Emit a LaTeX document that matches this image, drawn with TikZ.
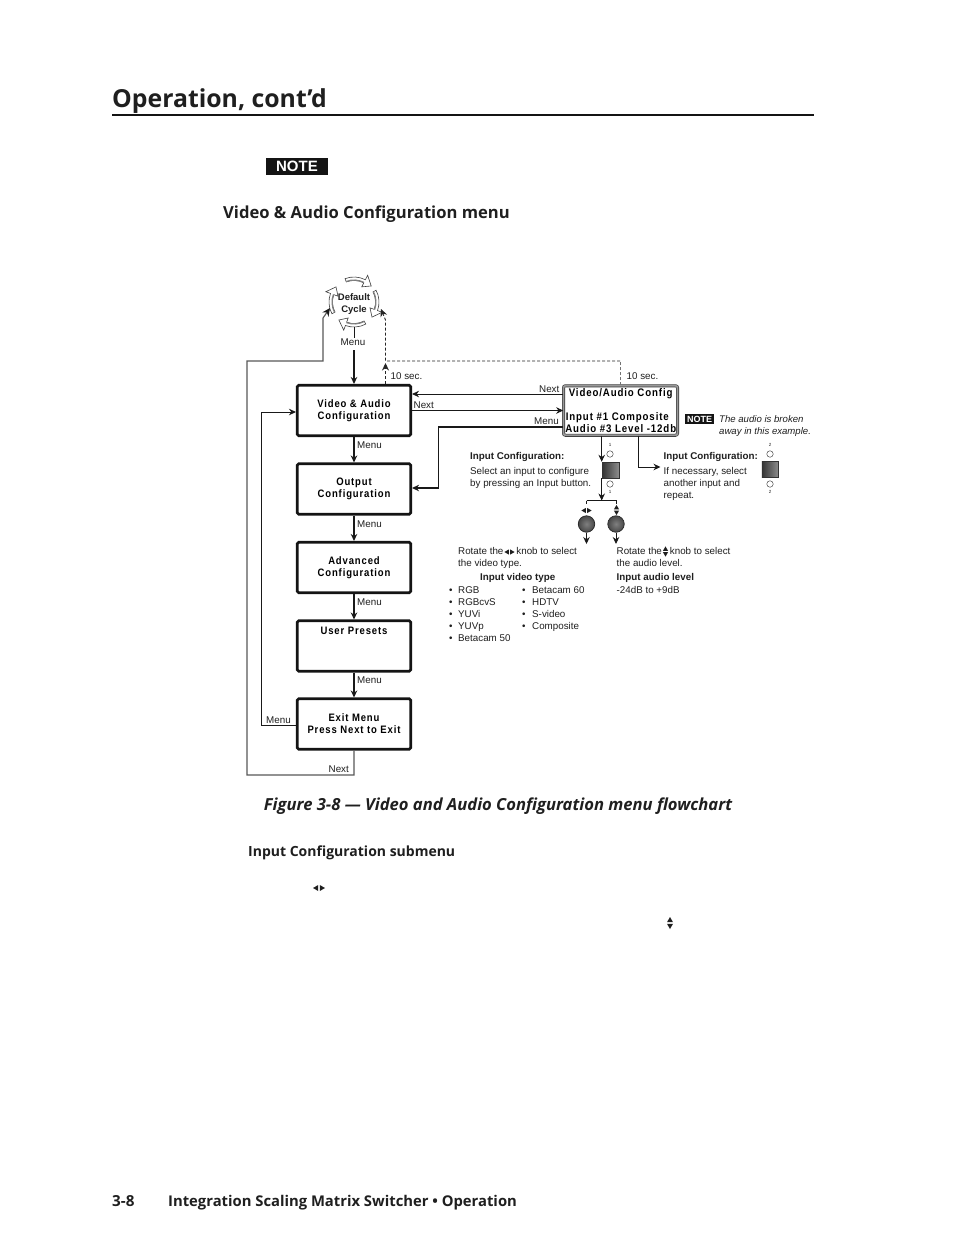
\documentclass[tikz,border=0pt]{standalone}
\usepackage{fontspec}
\usetikzlibrary{arrows.meta,calc,shadings}
\setmainfont{Liberation Sans}
\newfontfamily\headfont{Open Sans}
\newfontfamily\boxfontfam[LetterSpace=8,FakeStretch=0.88]{Liberation Sans}
\definecolor{ink}{gray}{0.12}
\tikzset{
 x=1pt,y=-1pt,
 lbl/.style={font=\fontsize{9.8}{12}\selectfont,anchor=base west,inner sep=0pt,text=ink},
 lblb/.style={lbl,font=\fontsize{9.8}{12}\selectfont\bfseries},
 head/.style={font=\fontsize{#1}{#1}\headfont\bfseries,anchor=base west,inner sep=0pt,text=ink},
 menubox/.style={draw=black!92,line width=2.6pt,rounded corners=1.5pt,fill=white,minimum width=113.5pt,minimum height=50.5pt,inner sep=0pt,align=center,font=\fontsize{10.8}{12}\boxfontfam\bfseries},
 boxtext/.style={inner sep=0pt,font=\fontsize{10.8}{12}\boxfontfam\bfseries},
 dispbox/.style={draw=black!80,double=black!40,double distance=1.8pt,line width=.6pt,rounded corners=2pt,fill=white,minimum width=114pt,minimum height=49.5pt,inner sep=0pt,align=left,font=\fontsize{11}{11.8}\boxfontfam\bfseries},
 tip/.style={-{Stealth[length=7pt,width=6.5pt]}},
 thin line/.style={line width=.9pt,draw=black!90},
 thick line/.style={line width=1.7pt,draw=black!90},
 gray line/.style={line width=1.1pt,draw=black!65},
 dash line/.style={line width=.9pt,draw=black!85,dash pattern=on 3pt off 2pt},
 pushbtn/.style={draw=black!80,line width=.5pt,left color=black!80,right color=black!45,minimum width=16.5pt,minimum height=16pt,inner sep=0pt},
 led/.style={circle,draw=black!75,line width=.45pt,fill=white,minimum size=6.5pt,inner sep=0pt},
 knob/.style={circle,draw=black!85,line width=.7pt,inner color=black!50,outer color=black!72,minimum size=16.5pt,inner sep=0pt},
 tiny/.style={font=\fontsize{4.5}{5}\selectfont,inner sep=0pt,text=ink},
 notebadge/.style={fill=black!92,text=white,inner sep=0pt,font=\bfseries},
 lrtri/.pic={\fill[ink] (-6,0)--(-.8,-3)--(-.8,3)--cycle (6,0)--(.8,-3)--(.8,3)--cycle;},
 udtri/.pic={\fill[ink] (0,-6)--(-3,-.8)--(3,-.8)--cycle (0,6)--(-3,.8)--(3,.8)--cycle;},
 cyc arrow/.pic={
  \path[draw=black!75,line width=.6pt,fill=white]
    (-68:21.5) arc[start angle=-68,end angle=-20,radius=21.5]
    -- (-20:17) -- (0:23.5) -- (-20:30) -- (-20:25)
    arc[start angle=-20,end angle=-68,radius=25] -- cycle;
  \draw[black!50,line width=1.1pt] (-68:22) arc[start angle=-68,end angle=-20,radius=22];
 },
}
\begin{document}
\begin{tikzpicture}
\path[use as bounding box,fill=white] (0,0) rectangle (954,1235);

% page furniture
\node[head=24.8] (title) at (112,107) {Operation, cont’d};
\draw[line width=1.8pt,black!92] (112,115) -- (814,115);
\node[notebadge,minimum width=62pt,minimum height=17pt,font=\fontsize{15}{15}\selectfont\bfseries] (notetop) at (297,166.5) {NOTE};
\node[head=16.6] (sec1) at (223,218) {Video \& Audio Configuration menu};
\node[inner sep=0pt,text=ink,anchor=base,font=\fontsize{16.6}{16.6}\headfont\bfseries\itshape] (cap) at (498,810) {Figure 3-8 — Video and Audio Configuration menu flowchart};
\node[head=14] (sec2) at (248,856) {Input Configuration submenu};
\node[head=15.2] (pg) at (112,1206) {3-8};
\node[head=14.8] (foot) at (168,1206) {Integration Scaling Matrix Switcher • Operation};
\pic at (319,888) {lrtri};
\pic at (670,923) {udtri};

% default cycle
\begin{scope}[shift={(354,302)},yscale=.93]
 \pic[rotate=-40] {cyc arrow};
 \pic[rotate=43] {cyc arrow};
 \pic[rotate=140] {cyc arrow};
 \pic[rotate=230] {cyc arrow};
\end{scope}
\node[inner sep=0pt,align=center,text=ink,font=\fontsize{9.5}{12}\selectfont\bfseries,minimum width=44pt,minimum height=46pt] (cyc) at (354,304) {Default\\Cycle};

% menu boxes
\node[menubox] (b1) at (354,410.5) {Video \& Audio\\Configuration};
\node[menubox] (b2) at (354,489) {Output\\Configuration};
\node[menubox] (b3) at (354,567.5) {Advanced\\Configuration};
\node[menubox] (b4) at (354,646) {};
\node[boxtext] (b4t) at (354,631) {User Presets};
\node[menubox] (b5) at (354,724) {Exit Menu\\Press Next to Exit};
\node[dispbox] (disp) at (620.5,410.5) {\hspace*{4pt}Video/Audio Config\\[11.8pt]\hspace*{1pt}Input \#1 Composite\\\hspace*{.5pt}Audio \#3 Level -12db};

% helper coordinates
\coordinate (mtop) at (354,338);
\coordinate (mbot) at (354,350);
\coordinate (dx) at (385.5,361);
\coordinate (dxr) at (620,361);
\coordinate (dtip) at (381,309);
\coordinate (dmid) at (385.5,320);
\coordinate (dar) at (385.5,363);
\coordinate (g1) at (354,775);
\coordinate (g2) at (247,775);
\coordinate (g3) at (247,361);
\coordinate (g4) at (323,361);
\coordinate (g5) at (323,318);
\coordinate (gtip) at (330,308);
\coordinate (l1) at (261,725);
\coordinate (l2) at (261,412);
\coordinate (m1) at (438.5,427);
\coordinate (m2) at (438.5,488);

% connectors
\draw[thin line] (cyc.south) -- (mtop);
\draw[thick line,tip] (mbot) -- (b1.north);
\draw[thick line,tip] (b1.south) -- (b2.north);
\draw[thick line,tip] (b2.south) -- (b3.north);
\draw[thick line,tip] (b3.south) -- (b4.north);
\draw[thick line,tip] (b4.south) -- (b5.north);
\draw[dash line,-{Stealth[length=7.5pt,width=7pt]}] (b1.north -| dx) -- (dar);
\draw[dash line,-{Stealth[length=7.5pt,width=7pt]}] (dxr) -- (dx) -- (dmid) -- (dtip);
\draw[dash line,draw=black!55] (disp.north -| dxr) -- (dxr);
\draw[gray line,-{Stealth[length=8pt,width=7.5pt,fill=black!90,color=black!90]}] (b5.south) -- (g1) -- (g2) -- (g3) -- (g4) -- (g5) -- (gtip);
\draw[line width=.95pt,draw=black!90,tip] (b5.west |- l1) -- (l1) -- (l2) -- (b1.west |- l2);
\draw[thin line,tip] (disp.west |- 0,394) -- (b1.east |- 0,394);
\draw[thin line,tip] (b1.east |- 0,410.5) -- (disp.west |- 0,410.5);
\draw[thick line,tip] (disp.west |- m1) -- (m1) -- (m2) -- (b2.east |- m2);

% labels on connectors
\node[lbl] (lm0) at (340.5,345.5) {Menu};
\node[lbl] (lm1) at (357,448.5) {Menu};
\node[lbl] (lm2) at (357,527.5) {Menu};
\node[lbl] (lm3) at (357,605.5) {Menu};
\node[lbl] (lm4) at (357,683.5) {Menu};
\node[lbl] (lm5) at (266,723.5) {Menu};
\node[lbl] (ln1) at (328.5,772.5) {Next};
\node[lbl] (ln2) at (413.5,408.5) {Next};
\node[lbl] (ln3) at (539,392) {Next};
\node[lbl] (lm6) at (534,424.5) {Menu};
\node[lbl] (t1) at (390.5,379.5) {10 sec.};
\node[lbl] (t2) at (626.5,379.5) {10 sec.};

% note
\node[notebadge,minimum width=29pt,minimum height=10.5pt,font=\fontsize{9}{9}\selectfont\bfseries] (noteb) at (699.5,419) {NOTE};
\node[lbl,font=\fontsize{9.6}{12}\selectfont\itshape,align=left,anchor=north west] (notet) at (719,415) {The audio is broken\\away in this example.};

% input buttons
\node[pushbtn] (btn1) at (610.5,470) {};
\node[led] (le1a) at (610,454) {};
\node[led] (le1b) at (610,484) {};
\node[tiny] (d1a) at (610,445) {1};
\node[tiny] (d1b) at (610,492) {1};
\node[pushbtn] (btn2) at (770,469.5) {};
\node[led] (le2a) at (770,454) {};
\node[led] (le2b) at (770,484) {};
\node[tiny] (d2a) at (770,445) {2};
\node[tiny] (d2b) at (770,492) {2};

% knobs
\node[knob] (k1) at (586.5,524) {};
\node[knob] (k2) at (616,524) {};
\pic[scale=.85] at (586.5,510.5) {lrtri};
\pic[scale=.85] at (616.5,510) {udtri};
\coordinate (n1) at (601.7,500.5);
\coordinate (n2) at (601.7,478);
\coordinate (h1) at (586.5,500.5);
\coordinate (h2) at (616.5,500.5);
\coordinate (r1) at (638,467);
\coordinate (r2) at (660.5,467);
\coordinate (o1) at (586.5,544);
\coordinate (o2) at (616,544);
\draw[thin line,tip] (disp.south -| n1) -- (btn1.north -| n1);
\draw[thin line,tip] (btn1.south -| n1) -- (n1);
\draw[thin line] (h1) -- ++(0,3.5) (h1) -- (h2) -- ++(0,3.5);
\draw[thin line,tip] (disp.south -| r1) -- (r1) -- (r2);
\draw[thin line,tip] (k1.south) -- (o1);
\draw[thin line,tip] (k2.south) -- (o2);

% left explanation
\node[lblb] (ic1) at (470,459) {Input Configuration:};
\node[lbl,anchor=north west,align=left] (ic1t) at (470,467.5) {Select an input to configure\\by pressing an Input button.};
\node[lblb] (ic2) at (663.5,459) {Input Configuration:};
\node[lbl,anchor=north west,align=left] (ic2t) at (663.5,467.5) {If necessary, select\\another input and\\repeat.};

% video
\node[lbl,anchor=north west,align=left] (rv) at (458,547.5) {Rotate the\hspace{13pt}knob to select\\the video type.};
\pic[scale=.85] at (509.5,552) {lrtri};
\node[lblb] (ivt) at (480,580) {Input video type};
\foreach \n/\y/\s in {a/593.5/RGB,b/605.5/RGBcvS,c/617.5/YUVi,d/629.5/YUVp,e/641.5/Betacam 50}{
 \node[lbl] (bl\n) at (449,\y) {•};
 \node[lbl] (tl\n) at (458,\y) {\s};
}
\foreach \n/\y/\s in {a/593.5/Betacam 60,b/605.5/HDTV,c/617.5/S-video,d/629.5/Composite}{
 \node[lbl] (br\n) at (522,\y) {•};
 \node[lbl] (tr\n) at (532,\y) {\s};
}
% audio
\node[lbl,anchor=north west,align=left] (ra) at (616.5,547.5) {Rotate the\hspace{8pt}knob to select\\the audio level.};
\pic[scale=.85] at (665.5,551.5) {udtri};
\node[lblb] (ial) at (616.5,580) {Input audio level};
\node[lbl] (ialv) at (616.5,593.5) {-24dB to +9dB};
\end{tikzpicture}
\end{document}
